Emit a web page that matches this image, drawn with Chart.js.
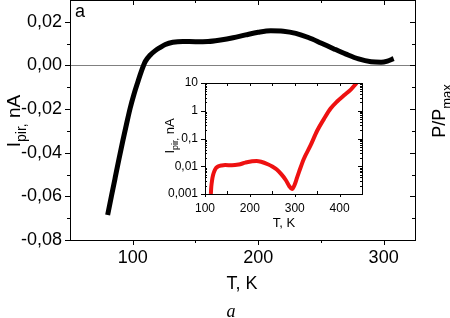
<!DOCTYPE html>
<html>
<head>
<meta charset="utf-8">
<script src="https://cdn.jsdelivr.net/npm/chart.js@4.4.1/dist/chart.umd.min.js"></script>
<style>
  html, body { margin: 0; padding: 0; background: #fff; }
  #wrap { position: relative; width: 450px; height: 318px; overflow: hidden; }
  #mainChart { position: absolute; left: 0; top: 0; }
  #insetChart { position: absolute; left: 160px; top: 70px; }
</style>
</head>
<body>
<div id="wrap">
  <canvas id="mainChart" width="450" height="318"></canvas>
  <canvas id="insetChart" width="210" height="165"></canvas>
</div>
<script>
// main panel: pyrocurrent vs temperature
const mainT = [80, 83, 86, 89, 92, 95, 98, 101, 104, 107, 110, 114, 118, 122, 126, 132, 140, 150, 160, 170,
    180, 190, 200, 210, 220, 230, 240, 250, 260, 270, 280, 290, 298, 303, 308];
const mainI = [-0.0685, -0.060, -0.0515, -0.043, -0.0348, -0.027, -0.0195, -0.0132, -0.0077, -0.0025, 0.0018,
    0.0048, 0.0068, 0.0083, 0.0096, 0.0106, 0.011, 0.0109, 0.011, 0.0117, 0.0127, 0.014, 0.0152, 0.0159,
    0.0157, 0.0147, 0.0128, 0.0103, 0.0077, 0.0052, 0.003, 0.0017, 0.0015, 0.002, 0.0031];

// inset: |I| on a log axis
const insetT = [113, 114, 116, 118, 121, 125, 130, 137, 145, 160, 175, 190, 205, 215, 225, 240, 250, 260,
    270, 280, 288, 294, 300, 305, 310, 320, 335, 350, 365, 380, 395, 410, 425, 438];
const insetI = [0.001, 0.0018, 0.0033, 0.0048, 0.0068, 0.0088, 0.0100, 0.0107, 0.011, 0.0108, 0.0115, 0.0135,
    0.0152, 0.0155, 0.0145, 0.0118, 0.0098, 0.0076, 0.0052, 0.0032, 0.0019, 0.0015, 0.0022, 0.0038, 0.0065,
    0.018, 0.055, 0.19, 0.5, 1.2, 2.2, 3.6, 5.8, 10];

const mainXTicks = [100, 200, 300];
const mainXMinor = [150, 250];
const mainYTicks = [-0.08, -0.06, -0.04, -0.02, 0, 0.02];
const mainYMinor = [-0.07, -0.05, -0.03, -0.01, 0.01];
const insetXTicks = [100, 200, 300, 400];
const insetXMinor = [150, 250, 350];
const insetYTicks = [0.001, 0.01, 0.1, 1, 10];

const SANS = 'Arial, "Liberation Sans", sans-serif';

// text with subscript pieces, centred at x,y
function drawSub(ctx, x, y, rot, parts, size) {
    const subSize = Math.round(size * 0.72);
    ctx.save();
    ctx.translate(x, y);
    ctx.rotate(rot);
    ctx.fillStyle = '#000';
    ctx.textAlign = 'left';
    ctx.textBaseline = 'alphabetic';
    let w = 0;
    parts.forEach(p => {
        ctx.font = (p[1] ? subSize : size) + 'px ' + SANS;
        w += ctx.measureText(p[0]).width;
    });
    let cx = -w / 2;
    parts.forEach(p => {
        ctx.font = (p[1] ? subSize : size) + 'px ' + SANS;
        ctx.fillText(p[0], cx, size * 0.36 + (p[1] ? size * 0.3 : 0));
        cx += ctx.measureText(p[0]).width;
    });
    ctx.restore();
}

// 1px lines as filled rects
function hLine(ctx, x1, x2, y) {
    ctx.fillRect(Math.round(Math.min(x1, x2)), Math.round(y), Math.round(Math.abs(x2 - x1)), 1);
}
function vLine(ctx, x, y1, y2) {
    ctx.fillRect(Math.round(x), Math.round(Math.min(y1, y2)), 1, Math.round(Math.abs(y2 - y1)));
}
function box(ctx, a) {
    const l = Math.round(a.left), r = Math.round(a.right), t = Math.round(a.top), b = Math.round(a.bottom);
    hLine(ctx, l, r + 1, t);
    hLine(ctx, l, r + 1, b);
    vLine(ctx, l, t, b + 1);
    vLine(ctx, r, t, b + 1);
}

const mainFrame = {
    id: 'mainFrame',
    afterDraw(chart) {
        const {ctx, chartArea: a, scales: {x, y}} = chart;
        ctx.save();
        ctx.globalAlpha = 1;
        ctx.fillStyle = '#000';
        box(ctx, a);
        const xt = (list, len) => list.forEach(t => {
            const p = x.getPixelForValue(t);
            vLine(ctx, p, a.bottom, a.bottom + len);
            vLine(ctx, p, a.top, a.top + len);
        });
        const yt = (list, len) => list.forEach(v => {
            const p = y.getPixelForValue(v);
            hLine(ctx, a.left - len, a.left, p);
            hLine(ctx, a.right - len, a.right, p);
        });
        xt(mainXTicks, 5); xt(mainXMinor, 3);
        yt(mainYTicks, 5); yt(mainYMinor, 3);

        ctx.font = '18px ' + SANS;
        ctx.textAlign = 'left';
        ctx.textBaseline = 'alphabetic';
        ctx.fillText('a', a.left + 5, 17);
        ctx.textAlign = 'center';
        ctx.fillText('T, K', 242, 289);
        ctx.font = 'italic 18px "Liberation Serif", "Times New Roman", serif';
        ctx.fillText('a', 231, 317);
        drawSub(ctx, 13, 121, -Math.PI / 2, [['I', 0], ['pir,', 1], [' nA', 0]], 19);
        drawSub(ctx, 439, 111, -Math.PI / 2, [['P/P', 0], ['max', 1]], 18);
        ctx.restore();
    }
};

const insetFrame = {
    id: 'insetFrame',
    afterDraw(chart) {
        const {ctx, chartArea: a, scales: {x, y}} = chart;
        ctx.save();
        ctx.globalAlpha = 1;
        ctx.fillStyle = '#000';
        box(ctx, a);
        insetXTicks.forEach(t => {
            const p = x.getPixelForValue(t);
            vLine(ctx, p, a.bottom, a.bottom + 3);
            vLine(ctx, p, a.top, a.top + 3);
        });
        insetXMinor.forEach(t => {
            const p = x.getPixelForValue(t);
            vLine(ctx, p, a.bottom - 3, a.bottom);
            vLine(ctx, p, a.top, a.top + 3);
        });
        insetYTicks.forEach((v, i) => {
            const p = y.getPixelForValue(v);
            hLine(ctx, a.left - 4, a.left, p);
            hLine(ctx, a.right - 4, a.right, p);
            if (i === insetYTicks.length - 1) return;
            for (let k = 2; k < 10; k++) {
                const q = y.getPixelForValue(v * k);
                hLine(ctx, a.left, a.left + 2, q);
                hLine(ctx, a.right - 2, a.right, q);
            }
        });
        ctx.font = '13px ' + SANS;
        ctx.textAlign = 'center';
        ctx.textBaseline = 'alphabetic';
        ctx.fillText('T, K', 124, 157);
        drawSub(ctx, 9, 66, -Math.PI / 2, [['I', 0], ['pir,', 1], [' nA', 0]], 13);
        ctx.restore();
    }
};

const noPad = s => { s.paddingTop = 0; s.paddingBottom = 0; s.paddingLeft = 0; s.paddingRight = 0; };

new Chart(document.getElementById('mainChart'), {
    type: 'line',
    data: {
        datasets: [{
            data: mainT.map((t, i) => ({x: t, y: mainI[i]})),
            borderColor: '#000',
            borderWidth: 5,
            pointRadius: 0,
            cubicInterpolationMode: 'monotone',
            fill: false
        }]
    },
    options: {
        responsive: false,
        animation: false,
        devicePixelRatio: 1,
        layout: {padding: {top: 0, right: 35, left: 0, bottom: 0}},
        plugins: {legend: {display: false}, tooltip: {enabled: false}},
        scales: {
            x: {
                type: 'linear', min: 50, max: 325,
                afterBuildTicks: s => { s.ticks = mainXTicks.map(v => ({value: v})); },
                afterFit: s => { s.height = 78; noPad(s); },
                grid: {display: false, drawTicks: false},
                border: {display: false},
                ticks: {color: '#000', font: {size: 18, family: SANS}, padding: 7, maxRotation: 0}
            },
            y: {
                type: 'linear', min: -0.08, max: 0.03,
                afterBuildTicks: s => { s.ticks = mainYTicks.map(v => ({value: v})); },
                afterFit: s => { s.width = 70; noPad(s); },
                grid: {
                    drawTicks: false,
                    color: c => (c.tick && c.tick.value === 0) ? '#808080' : 'rgba(0,0,0,0)'
                },
                border: {display: false},
                ticks: {
                    color: '#000', font: {size: 18, family: SANS}, padding: 8,
                    callback: v => v.toFixed(2).replace('.', ',')
                }
            }
        }
    },
    plugins: [mainFrame]
});

new Chart(document.getElementById('insetChart'), {
    type: 'line',
    data: {
        datasets: [{
            data: insetT.map((t, i) => ({x: t, y: insetI[i]})),
            borderColor: '#ee1111',
            borderWidth: 4,
            pointRadius: 0,
            cubicInterpolationMode: 'monotone',
            fill: false
        }]
    },
    options: {
        responsive: false,
        animation: false,
        devicePixelRatio: 1,
        layout: {padding: {top: 13, right: 8, left: 0, bottom: 0}},
        plugins: {legend: {display: false}, tooltip: {enabled: false}},
        scales: {
            x: {
                type: 'linear', min: 100, max: 450,
                afterBuildTicks: s => { s.ticks = insetXTicks.map(v => ({value: v})); },
                afterFit: s => { s.height = 41; noPad(s); },
                grid: {display: false, drawTicks: false},
                border: {display: false},
                ticks: {color: '#000', font: {size: 12, family: SANS}, padding: 7, maxRotation: 0}
            },
            y: {
                type: 'logarithmic', min: 0.001, max: 10,
                afterBuildTicks: s => { s.ticks = insetYTicks.map(v => ({value: v})); },
                afterFit: s => { s.width = 45; noPad(s); },
                grid: {display: false, drawTicks: false},
                border: {display: false},
                ticks: {
                    color: '#000', font: {size: 12, family: SANS}, padding: 7,
                    callback: v => String(v).replace('.', ',')
                }
            }
        }
    },
    plugins: [insetFrame]
});
</script>
</body>
</html>
